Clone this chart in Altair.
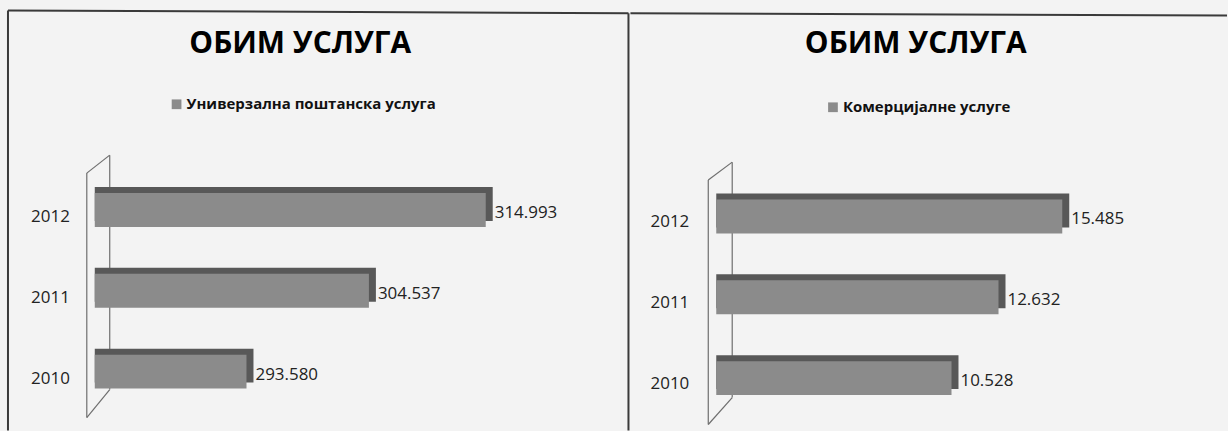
import altair as alt
import pandas as pd

# ---- data ----
years = ["2010", "2011", "2012"]
universal = [293580, 304537, 314993]      # shown as 293.580, 304.537, 314.993
commercial = [10528, 12632, 15485]        # shown as 10.528, 12.632, 15.485
chart_title = "ОБИМ УСЛУГА"
series_left = "Универзална поштанска услуга"
series_right = "Комерцијалне услуге"
year_order = ["2012", "2011", "2010"]

FONT = "Open Sans"
BAR = "#8b8b8b"
DEPTH = "#585858"
LINE = "#3a3a3a"
WALL = "#6e6e6e"
ONE = pd.DataFrame({"k": [0]})


def seg(x1, y1, x2, y2, color=LINE, width=2.0):
    return alt.Chart(ONE).mark_rule(color=color, strokeWidth=width).encode(
        x=alt.value(x1), y=alt.value(y1), x2=alt.value(x2), y2=alt.value(y2)
    )


def panel(values, series, x_domain, x_range, y_range, label_x, label_dy,
          title_x, legend_sq, legend_y, wall, frame, width):
    df = pd.DataFrame({"year": years, "v": values})
    base = alt.Chart(df).transform_calculate(
        lab="replace(format(datum.v, ','), ',', '.')"
    )
    x = alt.X("v:Q", scale=alt.Scale(domain=x_domain, range=x_range,
                                     zero=False, nice=False), axis=None)
    y = alt.Y("year:N", sort=year_order,
              scale=alt.Scale(domain=year_order, range=y_range,
                              paddingInner=0.58, paddingOuter=0.29),
              axis=None)
    x2 = alt.X2(datum=x_domain[0])

    depth = base.mark_bar(color=DEPTH, xOffset=7, yOffset=-6).encode(x=x, x2=x2, y=y)
    front = base.mark_bar(color=BAR).encode(x=x, x2=x2, y=y)
    vlabels = base.mark_text(align="left", baseline="middle", dx=9, dy=3,
                             font=FONT, fontSize=17, color="#222").encode(
        x=x, y=y, text="lab:N")
    ylabels = base.mark_text(align="right", baseline="middle", dy=label_dy,
                             font=FONT, fontSize=17, color="#222").encode(
        x=alt.value(label_x), y=y, text="year:N")

    title = alt.Chart(pd.DataFrame({"t": [chart_title]})).mark_text(
        align="center", baseline="middle", font=FONT, fontSize=30,
        fontWeight="bold", color="black").encode(
        x=alt.value(title_x), y=alt.value(44), text="t:N")
    sq = alt.Chart(ONE).mark_square(size=95, color=BAR, opacity=1).encode(
        x=alt.value(legend_sq), y=alt.value(legend_y))
    leg = alt.Chart(pd.DataFrame({"t": [series]})).mark_text(
        align="left", baseline="middle", font=FONT, fontSize=15,
        fontWeight="bold", color="#111").encode(
        x=alt.value(legend_sq + 10), y=alt.value(legend_y), text="t:N")

    (lx, ly1, ly2), (rx, ry1, ry2) = wall
    walls = [
        seg(lx, ly1, lx, ly2, WALL, 1.2),
        seg(rx, ry1, rx, ry2, WALL, 1.2),
        seg(lx, ly1, rx, ry1, WALL, 1.2),
        seg(lx, ly2, rx, ry2, WALL, 1.2),
    ]
    frames = [seg(*f) for f in frame]

    return alt.layer(*walls, depth, front, vlabels, ylabels, title, sq, leg,
                     *frames).properties(width=width, height=431)


left = panel(universal, series_left,
             x_domain=[280000, 320000], x_range=[95, 543],
             y_range=[169.5, 412.5], label_x=70, label_dy=7,
             title_x=301, legend_sq=177, legend_y=104,
             wall=((87, 173, 418), (110, 155, 390)),
             frame=[(8, 10, 630, 12.7), (8, 10, 8, 431), (630, 12.7, 630, 431)],
             width=630)

right = panel(commercial, series_right,
              x_domain=[0, 20000], x_range=[86, 534],
              y_range=[176, 419], label_x=59, label_dy=6,
              title_x=286, legend_sq=203, legend_y=107,
              wall=((78, 180, 425), (102, 162, 398)),
              frame=[(0, 12.7, 598, 15)],
              width=598)

chart = alt.hconcat(left, right, spacing=0).properties(
    padding=0, background="#f3f3f3"
).configure_view(stroke=None)

chart.save("out.html", embed_options={"renderer": "svg", "actions": False})
